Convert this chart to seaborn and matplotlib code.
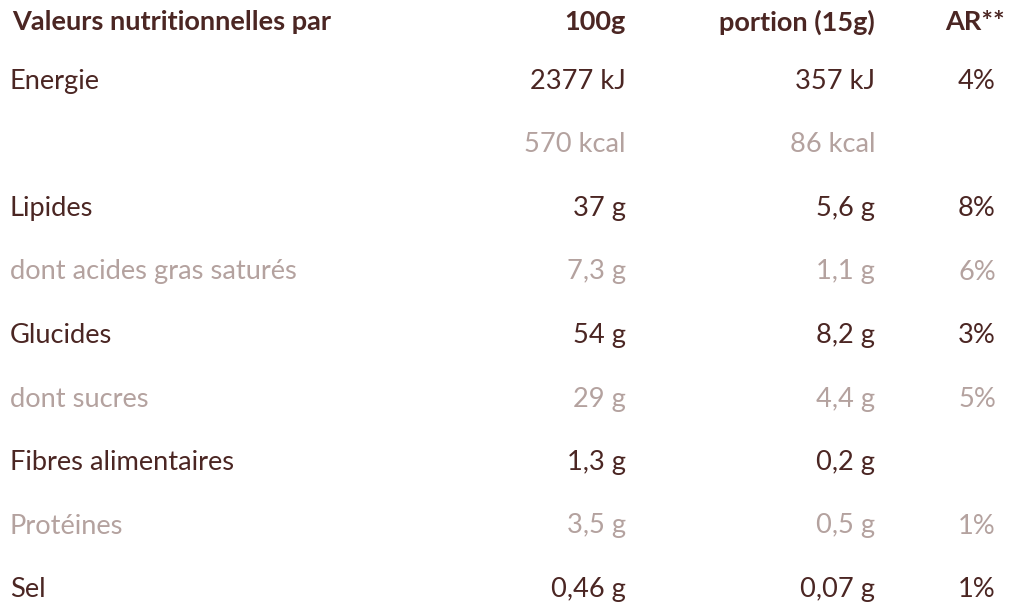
import matplotlib
matplotlib.use("Agg")
import matplotlib.pyplot as plt
import seaborn as sns

# table content
header = ["Valeurs nutritionnelles par", "100g", "portion (15g)", "AR**"]
nutrients = ["Energie", "", "Lipides", "dont acides gras saturés", "Glucides",
             "dont sucres", "Fibres alimentaires", "Protéines", "Sel"]
per_100g = ["2377 kJ", "570 kcal", "37 g", "7,3 g", "54 g", "29 g", "1,3 g", "3,5 g", "0,46 g"]
per_portion = ["357 kJ", "86 kcal", "5,6 g", "1,1 g", "8,2 g", "4,4 g", "0,2 g", "0,5 g", "0,07 g"]
ar = ["4%", "", "8%", "6%", "3%", "5%", "", "1%", "1%"]
sub_row = [False, True, False, True, False, True, False, True, False]

dark = "#4b2623"
light = "#b4a29f"

sns.set_theme(style="white")
plt.rcParams["font.family"] = ["Lato", "DejaVu Sans"]

fig = plt.figure(figsize=(10.24, 6.11), dpi=100)
ax = fig.add_axes([0, 0, 1, 1])
ax.set_xlim(0, 1024)
# one unit per row (63.5 px), first row centred at 79 px
ax.set_ylim((611 - 79) / 63.5, -79 / 63.5)
ax.axis("off")

col_label, col_100, col_portion, col_ar = 10, 626, 875, 977
fs = 19.6
hfs = 19.5
hy = (20 - 79) / 63.5

ax.text(col_label + 2, hy, header[0], ha="left", va="center_baseline", fontsize=hfs, fontweight="bold", color=dark)
ax.text(col_100, hy, header[1], ha="right", va="center_baseline", fontsize=hfs, fontweight="bold", color=dark)
ax.text(col_portion, hy, header[2], ha="right", va="center_baseline", fontsize=hfs, fontweight="bold", color=dark)
ax.text(1005, hy, header[3], ha="right", va="center_baseline", fontsize=hfs, fontweight="bold", color=dark)

for i, name in enumerate(nutrients):
    c = light if sub_row[i] else dark
    y = i
    ax.text(col_label, y, name, ha="left", va="center_baseline", fontsize=fs, color=c)
    ax.text(col_100, y, per_100g[i], ha="right", va="center_baseline", fontsize=fs, color=c)
    ax.text(col_portion, y, per_portion[i], ha="right", va="center_baseline", fontsize=fs, color=c)
    ax.text(col_ar, y, ar[i], ha="center", va="center_baseline", fontsize=fs, color=c)

fig.savefig("out.png", dpi=100, facecolor="white")
